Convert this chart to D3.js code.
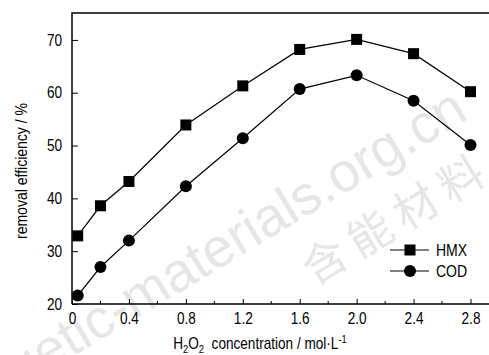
<!DOCTYPE html>
<html>
<head>
<meta charset="utf-8">
<script src="https://cdn.jsdelivr.net/npm/d3@7"></script>
<style>
  body { margin: 0; background: #fff; }
  text { font-family: "Liberation Sans", Arial, sans-serif; }
</style>
</head>
<body>
<script>
// data
const concentration = [0.04, 0.2, 0.4, 0.8, 1.2, 1.6, 2.0, 2.4, 2.8];
const hmxRemoval = [32.9, 38.6, 43.2, 53.9, 61.3, 68.2, 70.1, 67.4, 60.2];
const codRemoval = [21.6, 27.0, 32.0, 42.3, 51.4, 60.7, 63.3, 58.5, 50.1];
const xTicks = [0, 0.4, 0.8, 1.2, 1.6, 2.0, 2.4, 2.8];
const xMinor = [0.2, 0.6, 1.0, 1.4, 1.8, 2.2, 2.6];
const yTicks = [20, 30, 40, 50, 60, 70];
const seriesNames = ["HMX", "COD"];

// narrow-looking text: squeeze Liberation Sans horizontally
const squeeze = 0.85;

let svgWidth = 489, svgHeight = 355;
let margin = { top: 13, right: 0, bottom: 51, left: 72 };
let chartWidth = svgWidth - margin.left - margin.right;
let chartHeight = svgHeight - margin.top - margin.bottom;

let svg = d3.select("body").append("svg")
  .attr("width", svgWidth)
  .attr("height", svgHeight);

// watermark
let wm = svg.append("g").attr("fill", "#e6e6e6");
wm.append("text")
  .attr("transform", "translate(470, 118) rotate(-31)")
  .attr("text-anchor", "end")
  .style("font-size", "55px")
  .text("energetic-materials.org.cn");
wm.append("text")
  .attr("transform", "translate(314, 286) rotate(-31)")
  .style("font-family", "Noto Sans CJK SC, sans-serif")
  .style("font-size", "44px")
  .style("letter-spacing", "9px")
  .text("含能材料");

let chartGroup = svg.append("g")
  .attr("transform", `translate(${margin.left}, ${margin.top})`);

let xScale = d3.scaleLinear().domain([0, 2.93]).range([0, chartWidth]);
let yScale = d3.scaleLinear().domain([20, 75.1]).range([chartHeight, 0]);

// frame: left and top
chartGroup.append("path")
  .attr("d", `M0,${chartHeight}V0H${chartWidth + 2}`)
  .attr("fill", "none")
  .attr("stroke", "#000")
  .attr("stroke-width", 1.5);

let bottomAxis = d3.axisBottom(xScale)
  .tickValues(xTicks)
  .tickSize(-5)
  .tickPadding(9)
  .tickFormat(d => d === 0 ? "0" : d3.format(".1f")(d));
let xAxisG = chartGroup.append("g")
  .attr("transform", `translate(0, ${chartHeight})`)
  .call(bottomAxis);
xAxisG.select(".domain").attr("d", `M0,0H${chartWidth + 2}`).attr("stroke-width", 1.5);
xAxisG.selectAll(".tick text")
  .style("font-size", "16px")
  .attr("fill", "#000")
  .attr("transform", `scale(${squeeze},1)`);

chartGroup.append("g")
  .attr("transform", `translate(0, ${chartHeight})`)
  .selectAll("line")
  .data(xMinor)
  .enter()
  .append("line")
  .attr("x1", d => xScale(d))
  .attr("x2", d => xScale(d))
  .attr("y1", 0)
  .attr("y2", -3)
  .attr("stroke", "#000");

let leftAxis = d3.axisLeft(yScale)
  .tickValues(yTicks)
  .tickSize(-6)
  .tickPadding(10);
let yAxisG = chartGroup.append("g").call(leftAxis);
yAxisG.select(".domain").remove();
yAxisG.selectAll(".tick text")
  .style("font-size", "16px")
  .attr("fill", "#000")
  .attr("x", -10 / squeeze)
  .attr("transform", `scale(${squeeze},1)`);

// axis labels
svg.append("g")
  .attr("transform", `translate(27, 171) rotate(-90)`)
  .append("text")
  .attr("transform", `scale(${squeeze},1)`)
  .attr("text-anchor", "middle")
  .style("font-size", "16.5px")
  .text("removal efficiency / %");

let xLabel = svg.append("g")
  .attr("transform", "translate(260, 349)")
  .append("text")
  .attr("transform", `scale(${squeeze},1)`)
  .attr("text-anchor", "middle")
  .style("font-size", "16px");
xLabel.append("tspan").text("H");
xLabel.append("tspan").attr("dy", 3.5).style("font-size", "11px").text("2");
xLabel.append("tspan").attr("dy", -3.5).text("O");
xLabel.append("tspan").attr("dy", 3.5).style("font-size", "11px").text("2");
xLabel.append("tspan").attr("dy", -3.5).text("\u00a0 concentration / mol\u00b7L");
xLabel.append("tspan").attr("dy", -6).style("font-size", "11px").text("-1");

// series
let line = d3.line()
  .x((d, i) => xScale(concentration[i]))
  .y(d => yScale(d));

function drawMarker(g, shape, cx, cy) {
  if (shape == "square") {
    g.append("rect")
      .attr("x", cx - 5.5).attr("y", cy - 5.5)
      .attr("width", 11).attr("height", 11)
      .attr("fill", "#000");
  } else {
    g.append("circle")
      .attr("cx", cx).attr("cy", cy).attr("r", 6)
      .attr("fill", "#000");
  }
}

function buildLine(values, shape) {
  chartGroup.append("path")
    .attr("d", line(values))
    .attr("fill", "none")
    .attr("stroke", "#000")
    .attr("stroke-width", 1.2);
  let pts = chartGroup.append("g");
  values.forEach((v, i) => drawMarker(pts, shape, xScale(concentration[i]), yScale(v)));
}
buildLine(hmxRemoval, "square");
buildLine(codRemoval, "circle");

// legend
let legend = svg.append("g");
let shapes = ["square", "circle"];
seriesNames.forEach((name, k) => {
  let ly = 250 + k * 21;
  legend.append("line")
    .attr("x1", 390).attr("x2", 429)
    .attr("y1", ly).attr("y2", ly)
    .attr("stroke", "#000").attr("stroke-width", 1.2);
  drawMarker(legend, shapes[k], 410, ly);
  legend.append("g")
    .attr("transform", `translate(436, ${ly + 6})`)
    .append("text")
    .attr("transform", `scale(${squeeze},1)`)
    .style("font-size", "16.5px")
    .text(name);
});
</script>
</body>
</html>
